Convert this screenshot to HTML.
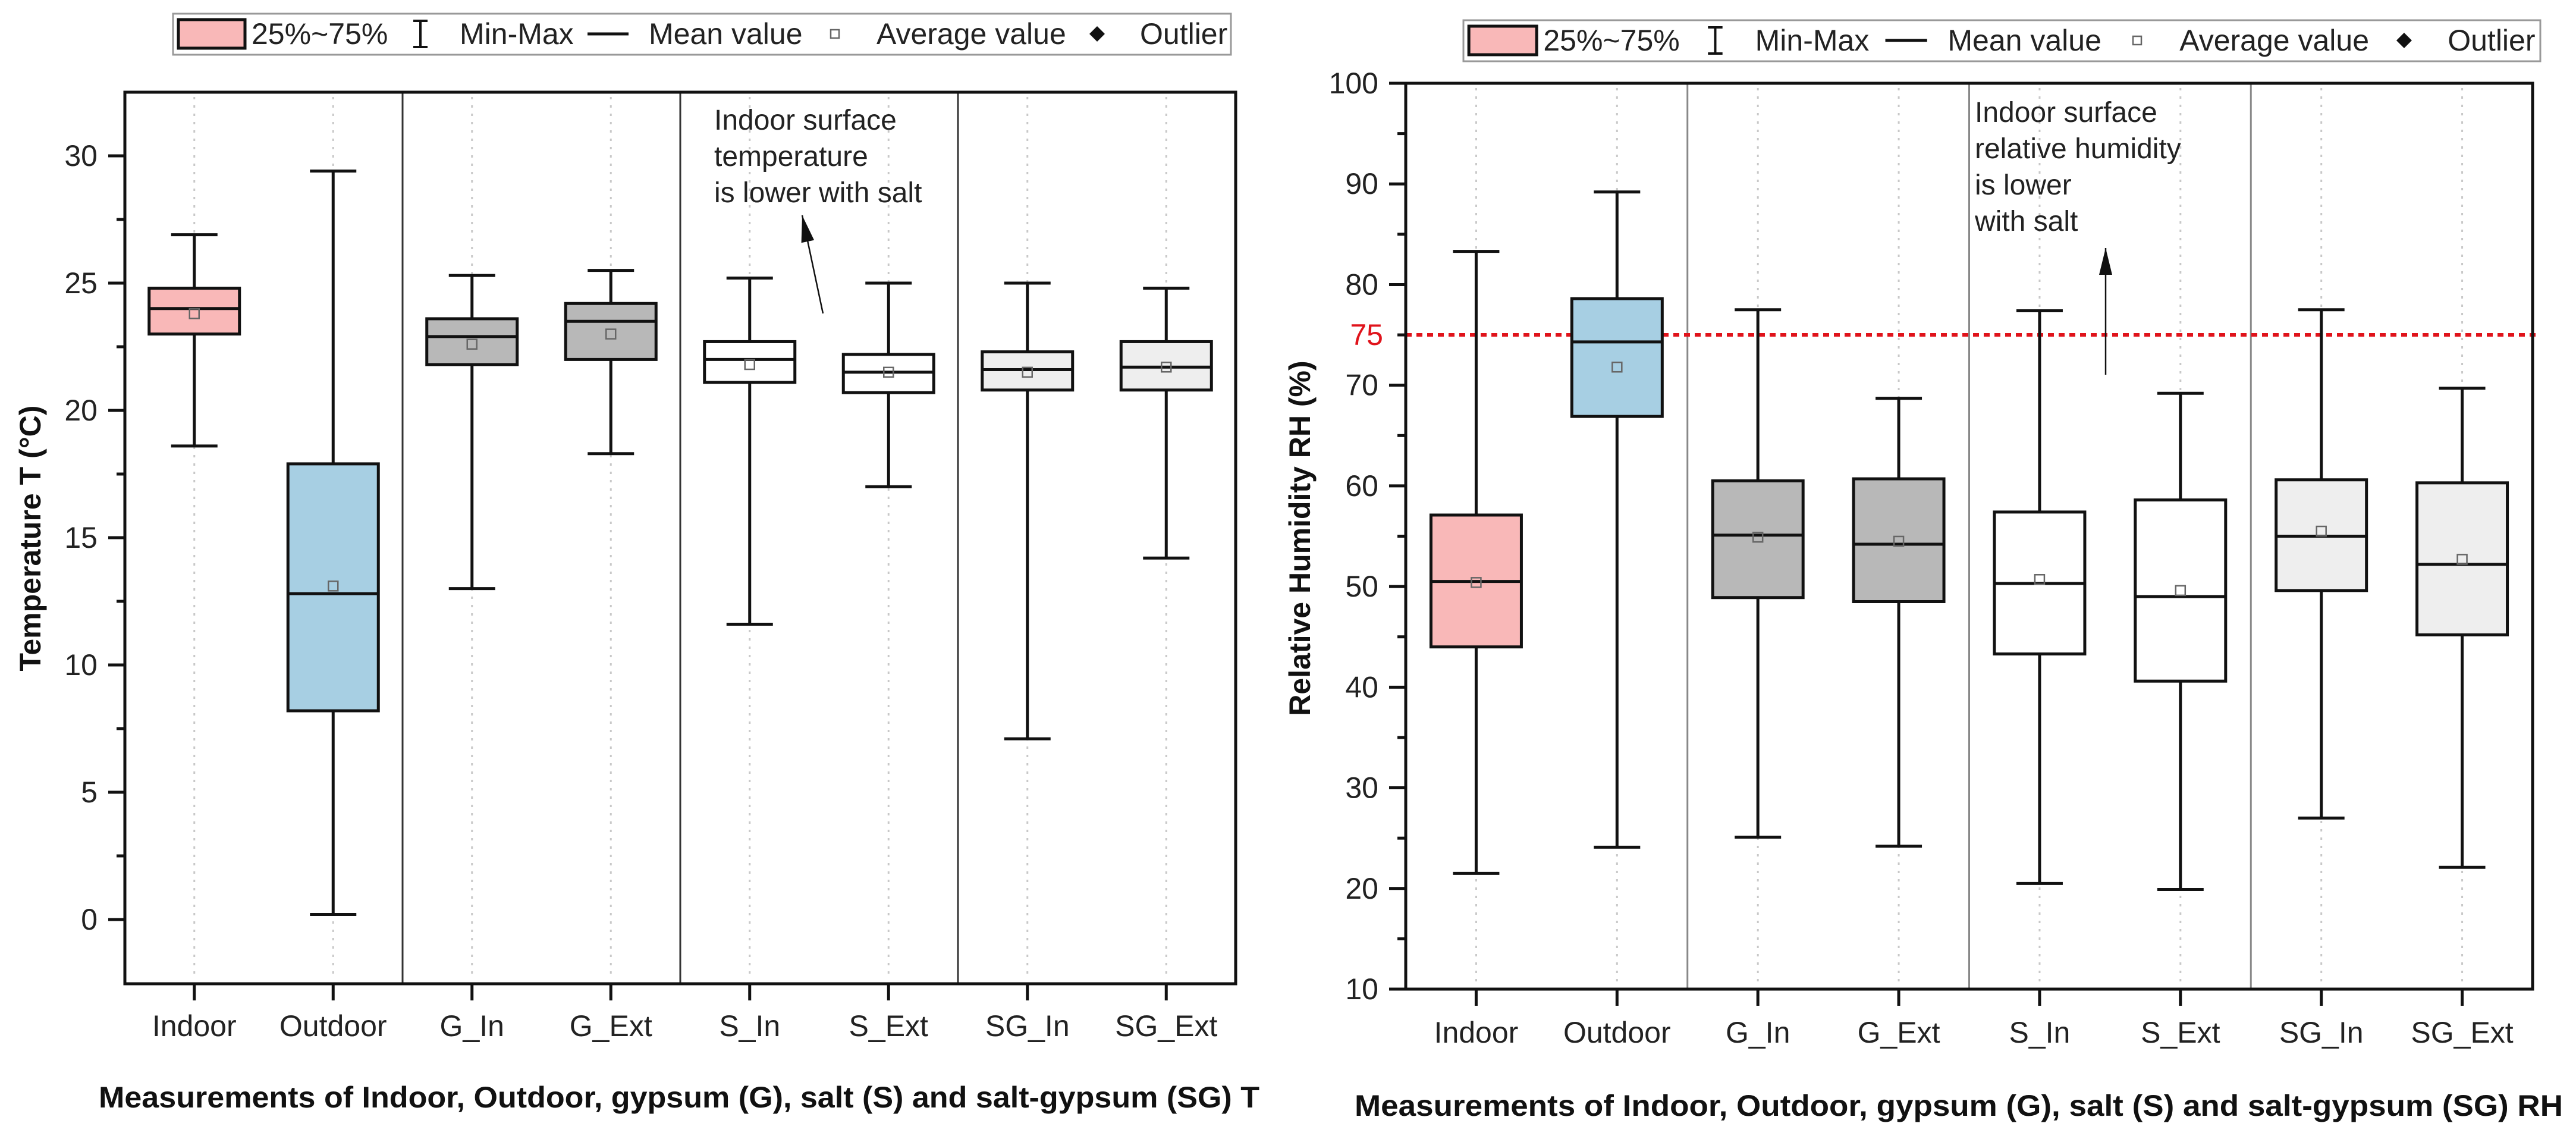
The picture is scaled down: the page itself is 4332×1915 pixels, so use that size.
<!DOCTYPE html>
<html><head><meta charset="utf-8">
<style>
html,body{margin:0;padding:0;background:#fff;}
svg{display:block;font-family:"Liberation Sans",Arial,sans-serif;}
</style></head>
<body>
<svg id="fig" width="4332" height="1915" viewBox="0 0 4332 1915" xmlns="http://www.w3.org/2000/svg"></svg>
<script>
const categories = ["Indoor","Outdoor","G_In","G_Ext","S_In","S_Ext","SG_In","SG_Ext"];
const fills = ["#f9b8b8","#a7cfe3","#b8b8b8","#b8b8b8","#ffffff","#ffffff","#eeeeee","#eeeeee"];
// Temperature
const tMax  = [26.9,29.4,25.3,25.5,25.2,25.0,25.0,24.8];
const tQ3   = [24.8,17.9,23.6,24.2,22.7,22.2,22.3,22.7];
const tMed  = [24.0,12.8,22.9,23.5,22.0,21.5,21.6,21.7];
const tMean = [23.8,13.1,22.6,23.0,21.8,21.5,21.5,21.7];
const tQ1   = [23.0,8.2,21.8,22.0,21.1,20.7,20.8,20.8];
const tMin  = [18.6,0.2,13.0,18.3,11.6,17.0,7.1,14.2];
const tTicks = [0,5,10,15,20,25,30];
// Relative humidity
const hMax  = [83.3,89.2,77.5,68.7,77.4,69.2,77.5,69.7];
const hQ3   = [57.1,78.6,60.5,60.7,57.4,58.6,60.6,60.3];
const hMed  = [50.5,74.3,55.1,54.2,50.3,49.0,55.0,52.2];
const hMean = [50.4,71.8,54.9,54.5,50.7,49.6,55.5,52.7];
const hQ1   = [44.0,66.9,48.9,48.5,43.3,40.6,49.6,45.2];
const hMin  = [21.5,24.1,25.1,24.2,20.5,19.9,27.0,22.1];
const hTicks = [10,20,30,40,50,60,70,80,90,100];
const hThreshold = [75];

const NS="http://www.w3.org/2000/svg";
const svg=document.getElementById('fig');
function mk(tag,attrs,parent,text){const e=document.createElementNS(NS,tag);for(const k in attrs)e.setAttribute(k,attrs[k]);if(text!==undefined)e.textContent=text;(parent||svg).appendChild(e);return e;}

function chart(o){
  const g=mk('g',{});
  
  
  const L=o.left,R=o.right,T=o.top,B=o.bottom;
  const y=v=>o.y0px+(v-o.v0)*(o.y1px-o.y0px)/(o.v1-o.v0);
  const bw=(R-L)/categories.length;
  const x=i=>L+bw*(i+0.5);
  // gridlines
  categories.forEach((c,i)=>{
    const gl=mk('line',{x1:x(i),x2:x(i),y1:T+8,y2:B-8,stroke:'#c8c8c8','stroke-width':3,'stroke-dasharray':'4 10'},g);
    
    
  });
  // separators
  [2,4,6].forEach(k=>{
    const s=mk('line',{x1:L+bw*k,x2:L+bw*k,y1:T,y2:B,stroke:o.sepColor,'stroke-width':3},g);
    
    
  });
  // threshold
  if(o.threshold){
    const th=mk('line',{x1:L,x2:R+10,y1:y(o.threshold[0]),y2:y(o.threshold[0]),stroke:'#e0131b','stroke-width':6,'stroke-dasharray':'10 8'},g);
    
    
    const tl=mk('text',{x:L-38,y:y(o.threshold[0])+17,'font-size':50,fill:'#e0131b','text-anchor':'end'},g,String(o.threshold[0]));
    
    
  }
  // boxes
  categories.forEach((c,i)=>{
    const bg=mk('g',{},g);
    
    
    const cx=x(i),hw=76,cw=39;
    mk('line',{x1:cx,x2:cx,y1:y(o.max[i]),y2:y(o.q3[i]),stroke:'#111','stroke-width':5},bg);
    mk('line',{x1:cx,x2:cx,y1:y(o.q1[i]),y2:y(o.min[i]),stroke:'#111','stroke-width':5},bg);
    mk('line',{x1:cx-cw,x2:cx+cw,y1:y(o.max[i]),y2:y(o.max[i]),stroke:'#111','stroke-width':5},bg);
    mk('line',{x1:cx-cw,x2:cx+cw,y1:y(o.min[i]),y2:y(o.min[i]),stroke:'#111','stroke-width':5},bg);
    mk('rect',{x:cx-hw,y:y(o.q3[i]),width:hw*2,height:y(o.q1[i])-y(o.q3[i]),fill:fills[i],stroke:'#111','stroke-width':5},bg);
    mk('line',{x1:cx-hw,x2:cx+hw,y1:y(o.med[i]),y2:y(o.med[i]),stroke:'#111','stroke-width':5},bg);
    mk('rect',{x:cx-8,y:y(o.mean[i])-8,width:16,height:16,fill:'none',stroke:'#666','stroke-width':2.5},bg);
    const xl=mk('text',{x:cx,y:o.xlabY,'font-size':50,'text-anchor':'middle',fill:'#222'},g,c);
    
    
    mk('line',{x1:cx,x2:cx,y1:B,y2:B+28,stroke:'#111','stroke-width':5},g);
  });
  // frame
  const fr=mk('rect',{x:L,y:T,width:R-L,height:B-T,fill:'none',stroke:'#111','stroke-width':5},g);
  
  
  // y ticks
  o.ticks.forEach((t,k)=>{
    mk('line',{x1:L-28,x2:L,y1:y(t),y2:y(t),stroke:'#111','stroke-width':5},g);
    if(k<o.ticks.length-1){const m=(t+o.ticks[k+1])/2;mk('line',{x1:L-14,x2:L,y1:y(m),y2:y(m),stroke:'#111','stroke-width':5},g);}
    const tl=mk('text',{x:L-46,y:y(t)+17,'font-size':50,'text-anchor':'end',fill:'#222'},g,String(t));
    
    
  });
  // y title
  const yt=mk('text',{x:o.ytX,y:905,'font-size':50,'font-weight':'bold','text-anchor':'middle',transform:`rotate(-90 ${o.ytX} 905)`,fill:'#111'},g,o.ytitle);
  
  
  const xt=mk('text',{x:o.xtX,y:o.xtY,'font-size':50,'font-weight':'bold',textLength:o.xtW,lengthAdjust:'spacingAndGlyphs',fill:'#111'},g,o.xtitle);
  
  
  // annotation
  o.note.forEach((ln,k)=>{
    const nt=mk('text',{x:o.noteX,y:o.noteY+k*o.noteDy,'font-size':48,fill:'#222'},g,ln);
    
    
  });
  const a=o.arrow;
  mk('line',{x1:a[0],y1:a[1],x2:a[2],y2:a[3],stroke:'#111','stroke-width':2.5},g);
  const ang=Math.atan2(a[3]-a[1],a[2]-a[0]);
  const p=(d,s)=>[a[2]-d*Math.cos(ang)+s*Math.sin(ang),a[3]-d*Math.sin(ang)-s*Math.cos(ang)];
  const p1=p(45,11),p2=p(45,-11);
  const ah=mk('polygon',{points:`${a[2]},${a[3]} ${p1[0]},${p1[1]} ${p2[0]},${p2[1]}`,fill:'#111'},g);
  
  
  // legend
  const lg=mk('g',{},g);
  
  
  const sx=o.lgW/1779, X=v=>o.lgX+(v-291)*sx, cy=o.lgY+34;
  mk('rect',{x:o.lgX,y:o.lgY,width:o.lgW,height:69,fill:'#fff',stroke:'#999','stroke-width':3},lg);
  mk('rect',{x:X(300),y:cy-24,width:X(412)-X(300),height:48,fill:'#f9b8b8',stroke:'#111','stroke-width':5},lg);
  mk('text',{x:X(423),y:cy+17,'font-size':50,fill:'#222'},lg,'25%~75%');
  mk('line',{x1:X(707),x2:X(707),y1:cy-22,y2:cy+22,stroke:'#111','stroke-width':4},lg);
  mk('line',{x1:X(695),x2:X(719),y1:cy-22,y2:cy-22,stroke:'#111','stroke-width':4},lg);
  mk('line',{x1:X(695),x2:X(719),y1:cy+22,y2:cy+22,stroke:'#111','stroke-width':4},lg);
  mk('text',{x:X(773),y:cy+17,'font-size':50,fill:'#222'},lg,'Min-Max');
  mk('line',{x1:X(988),x2:X(1057),y1:cy,y2:cy,stroke:'#111','stroke-width':5},lg);
  mk('text',{x:X(1091),y:cy+17,'font-size':50,fill:'#222'},lg,'Mean value');
  mk('rect',{x:X(1404)-7,y:cy-7,width:14,height:14,fill:'none',stroke:'#666','stroke-width':2.5},lg);
  mk('text',{x:X(1474),y:cy+17,'font-size':50,fill:'#222'},lg,'Average value');
  mk('polygon',{points:`${X(1845)},${cy-13} ${X(1845)+13},${cy} ${X(1845)},${cy+13} ${X(1845)-13},${cy}`,fill:'#111'},lg);
  mk('text',{x:X(1917),y:cy+17,'font-size':50,fill:'#222'},lg,'Outlier');
}

chart({name:'temperature-chart',left:210,right:2078,top:155,bottom:1654,
  v0:0,v1:30,y0px:1546,y1px:262,ticks:tTicks,
  max:tMax,q3:tQ3,med:tMed,mean:tMean,q1:tQ1,min:tMin,sepColor:'#333',
  xlabY:1742,ytX:68,ytitle:'Temperature T (°C)',
  xtX:166,xtY:1862,xtW:1952,xtitle:'Measurements of Indoor, Outdoor, gypsum (G), salt (S) and salt-gypsum (SG) T',
  note:['Indoor surface','temperature','is lower with salt'],noteX:1201,noteY:218,noteDy:61,
  arrow:[1384,527,1349,362],lgX:291,lgY:23,lgW:1779});

chart({name:'humidity-chart',left:2364,right:4259,top:140,bottom:1663,
  v0:10,v1:100,y0px:1663,y1px:140,ticks:hTicks,
  max:hMax,q3:hQ3,med:hMed,mean:hMean,q1:hQ1,min:hMin,sepColor:'#888',threshold:hThreshold,
  xlabY:1753,ytX:2203,ytitle:'Relative Humidity RH (%)',
  xtX:2278,xtY:1876,xtW:2032,xtitle:'Measurements of Indoor, Outdoor, gypsum (G), salt (S) and salt-gypsum (SG) RH',
  note:['Indoor surface','relative humidity','is lower','with salt'],noteX:3321,noteY:205,noteDy:61,
  arrow:[3541,630,3541,417],lgX:2461,lgY:34,lgW:1811});
</script>
</body></html>
